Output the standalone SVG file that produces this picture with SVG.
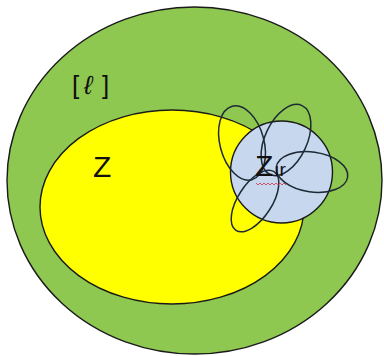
<svg xmlns="http://www.w3.org/2000/svg" width="384" height="356" viewBox="0 0 384 356">
<style>
.o{stroke:#1a1a1a;stroke-width:1.4}
.p{fill:none;stroke:#1e2a36;stroke-width:1.5}
.t{font-family:"Liberation Sans",Arial,sans-serif;fill:#111}
</style>
<rect width="384" height="356" fill="#ffffff"/>
<g id="outer"><ellipse class="o" cx="194.5" cy="180.5" rx="187.5" ry="173.5" fill="#8ec851"/>
<text class="t" y="94" font-size="26" fill="#1b2a12"><tspan x="72">[</tspan><tspan x="84" font-style="italic" font-size="26">ℓ</tspan><tspan x="102">]</tspan></text></g>
<g id="z"><ellipse class="o" cx="172" cy="207" rx="132" ry="97" fill="#ffff00"/>
<text class="t" x="93" y="177" font-size="30">Z</text></g>
<g id="zir"><circle class="o" cx="281.5" cy="172" r="51" fill="#c6d7ee"/>
<g id="petals">
<ellipse class="p" cx="242" cy="143" rx="22" ry="38" transform="rotate(-15 242 143)"/>
<ellipse class="p" cx="286" cy="140" rx="21" ry="38" transform="rotate(25 286 140)"/>
<ellipse class="p" cx="312" cy="172" rx="36" ry="20" transform="rotate(8 312 172)"/>
<ellipse class="p" cx="255" cy="201" rx="17" ry="35" transform="rotate(33 255 201)"/>
</g>
<text class="t" x="255" y="176" font-size="30">Z<tspan font-size="19" dx="1">ır</tspan></text>
<polyline fill="none" stroke="#d0304a" stroke-width="0.8" points="256,183 258,185 260,183 262,185 264,183 266,185 268,183 270,185 272,183 274,185 276,183 278,185 280,183 282,185 284,183 286,185"/></g>
</svg>
